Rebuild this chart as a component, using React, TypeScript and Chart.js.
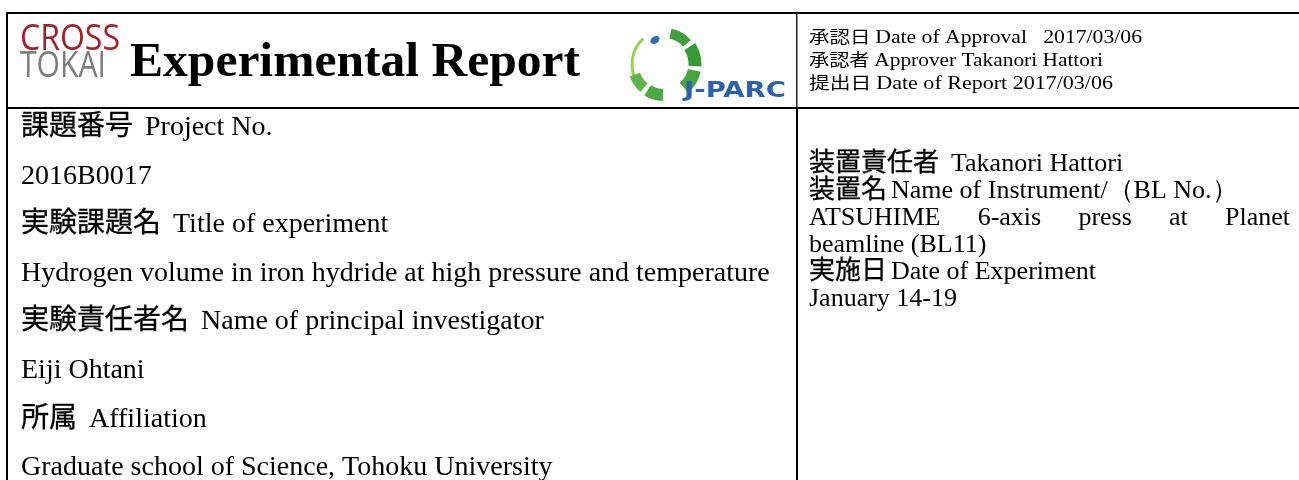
import React, { useEffect, useRef } from "react";
import { Chart, registerables } from "chart.js";

Chart.register(...registerables);

// ---- content ----
const logoWords = ["CROSS", "TOKAI"];
const reportTitle = "Experimental Report";
const partnerLogo = "J-PARC";
const approvalLabels = ["承認日", "承認者", "提出日"];
const approvalValues = [
  "Date of Approval   2017/03/06",
  "Approver Takanori Hattori",
  "Date of Report 2017/03/06",
];
const projectLabels = ["課題番号", "", "実験課題名", "", "実験責任者名", "", "所属", ""];
const projectValues = [
  "Project No.",
  "2016B0017",
  "Title of experiment",
  "Hydrogen volume in iron hydride at high pressure and temperature",
  "Name of principal investigator",
  "Eiji Ohtani",
  "Affiliation",
  "Graduate school of Science, Tohoku University",
];
const instrumentLabels = ["装置責任者", "装置名", "", "", "実施日", ""];
const instrumentValues = [
  "Takanori Hattori",
  "Name of Instrument/（BL No.）",
  "ATSUHIME 6-axis press at Planet",
  "beamline (BL11)",
  "Date of Experiment",
  "January 14-19",
];

// ---- layout ----
const W = 1299;
const H = 480;
const FRAME_TOP = 13;
const FRAME_LEFT = 7;
const HEADER_BOTTOM = 108;
const DIVIDER_X = 797;

const CJK = "'Noto Sans CJK JP', 'Noto Sans CJK SC', sans-serif";
const SERIF = "'Liberation Serif', 'DejaVu Serif', serif";

type LineOpts = {
  x: number;
  y: number;
  labelFont: string;
  valueFont: string;
  gap: number;
  labelStroke?: number;
  fit?: number;
  justify?: number;
  color?: string;
};

function drawLine(ctx: CanvasRenderingContext2D, label: string, value: string, o: LineOpts) {
  ctx.save();
  ctx.fillStyle = o.color || "#000";
  ctx.strokeStyle = o.color || "#000";
  ctx.textBaseline = "alphabetic";
  ctx.textAlign = "left";
  let lw = 0;
  if (label) {
    ctx.font = o.labelFont;
    lw = ctx.measureText(label).width + o.gap;
  }
  ctx.font = o.valueFont;
  if (o.justify && !label) {
    const words = value.split(/\s+/);
    const widths = words.map((w) => ctx.measureText(w).width);
    const total = widths.reduce((a, b) => a + b, 0);
    const g = (o.justify - o.x - total) / (words.length - 1);
    let cx = o.x;
    words.forEach((w, i) => {
      ctx.fillText(w, cx, o.y);
      cx += widths[i] + g;
    });
    ctx.restore();
    return;
  }
  const vw = ctx.measureText(value).width;
  const total = lw + vw;
  const s = o.fit ? (o.fit - o.x) / total : 1;
  ctx.translate(o.x, o.y);
  ctx.scale(s, 1);
  if (label) {
    ctx.font = o.labelFont;
    ctx.fillText(label, 0, 0);
    if (o.labelStroke) {
      ctx.lineWidth = o.labelStroke;
      ctx.strokeText(label, 0, 0);
    }
  }
  ctx.font = o.valueFont;
  ctx.fillText(value, lw, 0);
  ctx.restore();
}

function drawFitText(
  ctx: CanvasRenderingContext2D,
  text: string,
  x: number,
  y: number,
  font: string,
  color: string,
  width: number
) {
  ctx.save();
  ctx.font = font;
  ctx.fillStyle = color;
  ctx.textBaseline = "alphabetic";
  const m = ctx.measureText(text).width;
  ctx.translate(x, y);
  ctx.scale(width / m, 1);
  ctx.fillText(text, 0, 0);
  ctx.restore();
}

function drawPartnerLogo(ctx: CanvasRenderingContext2D) {
  const cx = 664;
  const cy = 64;
  const r = 31;
  ctx.save();
  ctx.lineCap = "butt";
  ctx.strokeStyle = "#9ccf5a";
  ctx.lineWidth = 3;
  ctx.beginPath();
  ctx.arc(cx + 2, cy, r + 3, (150 * Math.PI) / 180, (228 * Math.PI) / 180);
  ctx.stroke();
  const segs: [number, number, number, string][] = [
    [-78, -42, 10, "#3f9f3a"],
    [-34, 4, 13, "#389a34"],
    [12, 50, 13, "#45a53e"],
    [92, 122, 12, "#4ca944"],
    [130, 160, 11, "#5eb44c"],
  ];
  segs.forEach(([a, b, lw, c]) => {
    ctx.strokeStyle = c;
    ctx.lineWidth = lw;
    ctx.beginPath();
    ctx.arc(cx, cy, r, (a * Math.PI) / 180, (b * Math.PI) / 180);
    ctx.stroke();
  });
  ctx.fillStyle = "#2f6fb5";
  ctx.beginPath();
  ctx.ellipse(655, 40, 5, 3.5, -0.6, 0, Math.PI * 2);
  ctx.fill();
  ctx.restore();
  drawFitText(ctx, partnerLogo, 684, 97, "bold 22px 'DejaVu Sans', sans-serif", "#2a62b0", 102);
}

const formPlugin = {
  id: "reportForm",
  beforeDraw(chart: any) {
    const ctx: CanvasRenderingContext2D = chart.ctx;
    ctx.save();
    ctx.fillStyle = "#ffffff";
    ctx.fillRect(0, 0, W, H);
    ctx.restore();
  },
  afterDraw(chart: any) {
    const ctx: CanvasRenderingContext2D = chart.ctx;
    ctx.save();
    ctx.fillStyle = "#000";
    ctx.fillRect(FRAME_LEFT - 1, FRAME_TOP - 1, W, 2);
    ctx.fillRect(FRAME_LEFT - 1, FRAME_TOP - 1, 2, H);
    ctx.fillRect(FRAME_LEFT - 1, HEADER_BOTTOM - 1, W, 2);
    ctx.fillRect(DIVIDER_X - 1, HEADER_BOTTOM, 2, H);
    ctx.fillStyle = "#222";
    ctx.fillRect(DIVIDER_X - 1, FRAME_TOP, 1.5, HEADER_BOTTOM - FRAME_TOP);
    ctx.restore();

    drawFitText(ctx, logoWords[0], 20, 50, "36px 'Open Sans', sans-serif", "#a3212c", 100);
    drawFitText(ctx, logoWords[1], 20, 77, "36px 'Open Sans', sans-serif", "#7d7d7d", 86);
    drawFitText(ctx, reportTitle, 130, 76, "bold 48px " + SERIF, "#000", 450);
    drawPartnerLogo(ctx);

    const approvalEnds = [1142, 1103, 1113];
    approvalLabels.forEach((lab, i) => {
      drawLine(ctx, lab, approvalValues[i], {
        x: 809,
        y: 43 + i * 23,
        labelFont: "400 17px " + CJK,
        valueFont: "18px " + SERIF,
        gap: 4,
        fit: approvalEnds[i],
      });
    });

    projectLabels.forEach((lab, i) => {
      drawLine(ctx, lab, projectValues[i], {
        x: 21,
        y: 135 + i * 48.6,
        labelFont: "400 28px " + CJK,
        valueFont: "28px " + SERIF,
        gap: 12,
        labelStroke: 0.3,
      });
    });

    instrumentLabels.forEach((lab, i) => {
      drawLine(ctx, lab, instrumentValues[i], {
        x: 809,
        y: 171 + i * 27,
        labelFont: "400 26px " + CJK,
        valueFont: "26px " + SERIF,
        gap: i === 0 ? 12 : 4,
        labelStroke: 0.3,
        justify: i === 2 ? 1290 : undefined,
      });
    });
  },
};

export default function App() {
  const canvasRef = useRef<HTMLCanvasElement | null>(null);
  useEffect(() => {
    if (!canvasRef.current) return;
    const chart = new Chart(canvasRef.current, {
      type: "scatter",
      data: { datasets: [] },
      options: {
        animation: false,
        responsive: false,
        devicePixelRatio: 1,
        events: [],
        layout: { padding: 0 },
        plugins: {
          legend: { display: false },
          tooltip: { enabled: false },
          title: { display: false },
        },
        scales: { x: { display: false }, y: { display: false } },
      },
      plugins: [formPlugin],
    });
    if ((document as any).fonts && (document as any).fonts.ready) {
      (document as any).fonts.ready.then(() => chart.draw());
    }
    return () => chart.destroy();
  }, []);
  return (
    <div style={{ position: "fixed", left: 0, top: 0, width: W, height: H, background: "#fff" }}>
      <canvas ref={canvasRef} width={W} height={H} style={{ width: W, height: H, display: "block" }} />
    </div>
  );
}
